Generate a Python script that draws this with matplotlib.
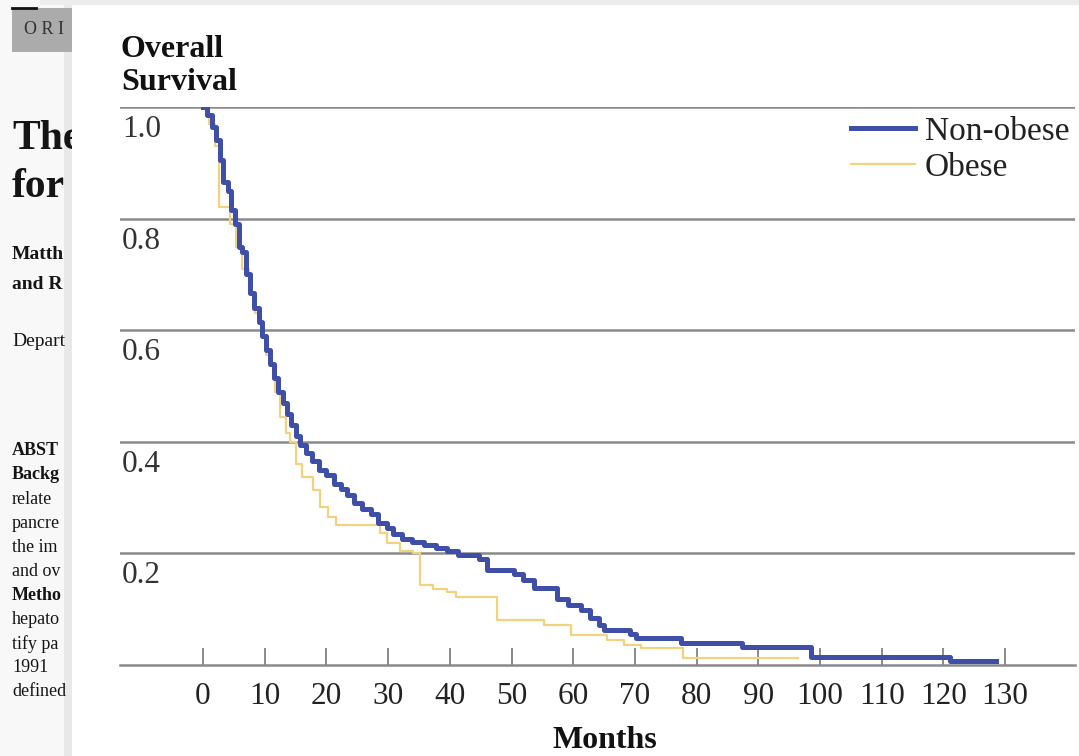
import matplotlib.pyplot as plt
from matplotlib.patches import Rectangle
from matplotlib.lines import Line2D

plt.rcParams['font.family'] = ['Liberation Serif', 'DejaVu Serif']

# Kaplan-Meier step points (months, survival)
nonobese_t = [0.0, 0.7, 1.4, 2.1, 2.8, 3.3, 4.1, 4.6, 5.2, 5.8, 6.4, 7.0, 7.6, 8.3,
              9.0, 9.6, 10.2, 10.8, 11.5, 12.2, 12.9, 13.6, 14.3, 15.0, 15.8, 16.7,
              17.7, 18.8, 20.0, 21.2, 22.3, 23.3, 24.4, 25.8, 27.3, 28.4, 29.8, 30.8,
              32.3, 33.8, 35.8, 37.8, 39.6, 41.3, 44.8, 46.1, 50.4, 51.8, 53.6, 57.3,
              59.2, 61.2, 62.7, 64.2, 65.0, 69.2, 70.2, 77.5, 87.3, 98.6, 121.0, 128.5]
nonobese_s = [1.000, 0.985, 0.965, 0.940, 0.905, 0.865, 0.850, 0.815, 0.790, 0.750,
              0.740, 0.700, 0.667, 0.640, 0.615, 0.590, 0.565, 0.540, 0.515, 0.490,
              0.470, 0.450, 0.430, 0.410, 0.395, 0.380, 0.365, 0.350, 0.340, 0.325,
              0.315, 0.305, 0.290, 0.280, 0.270, 0.255, 0.245, 0.235, 0.225, 0.220,
              0.215, 0.210, 0.205, 0.198, 0.190, 0.170, 0.163, 0.152, 0.138, 0.118,
              0.108, 0.098, 0.085, 0.072, 0.063, 0.055, 0.048, 0.040, 0.032, 0.014,
              0.007, 0.007]

obese_t = [0.0, 1.0, 1.9, 2.6, 4.4, 5.4, 6.4, 7.4, 8.4, 9.4, 10.2, 10.9, 11.7, 12.5,
           13.5, 14.1, 15.0, 16.1, 17.8, 19.0, 20.3, 21.6, 28.7, 29.8, 32.0, 34.1,
           35.2, 37.2, 39.6, 41.0, 47.6, 55.2, 59.7, 65.5, 68.2, 71.0, 77.8, 96.5]
obese_s = [1.000, 0.970, 0.930, 0.820, 0.790, 0.750, 0.710, 0.665, 0.630, 0.590,
           0.555, 0.535, 0.490, 0.445, 0.415, 0.400, 0.360, 0.337, 0.314, 0.283,
           0.265, 0.251, 0.237, 0.219, 0.205, 0.200, 0.143, 0.137, 0.131, 0.122,
           0.081, 0.072, 0.054, 0.045, 0.036, 0.030, 0.0125, 0.0125]

x_ticks = [0, 10, 20, 30, 40, 50, 60, 70, 80, 90, 100, 110, 120, 130]
y_ticks = [0.2, 0.4, 0.6, 0.8, 1.0]
y_labels = ['0.2', '0.4', '0.6', '0.8', '1.0']

# bits of the article page showing behind the chart (left edge)
page_lines = [
    ('The', 120, 30, 'bold'), ('for', 168, 30, 'bold'),
    ('Matth', 246, 14, 'bold'), ('and R', 276, 14, 'bold'),
    ('Depart', 333, 14, 'normal'),
    ('ABST', 442, 13, 'bold'), ('Backg', 466, 13, 'bold'),
    ('relate', 491, 13, 'normal'), ('pancre', 515, 13, 'normal'),
    ('the im', 539, 13, 'normal'), ('and ov', 563, 13, 'normal'),
    ('Metho', 587, 13, 'bold'), ('hepato', 611, 13, 'normal'),
    ('tify pa', 635, 13, 'normal'), ('1991', 659, 13, 'normal'),
    ('defined', 683, 13, 'normal'),
]

W, H = 1079, 756
fig = plt.figure(figsize=(W / 100, H / 100), dpi=100)
fig.patch.set_facecolor('#f8f8f8')

def fx(px):
    return px / W

def fy(py):
    return 1 - py / H

# page background
fig.add_artist(Rectangle((fx(40), fy(5)), 1, 5 / H, transform=fig.transFigure,
                         facecolor='#ececec', edgecolor='none', zorder=-3))
fig.add_artist(Rectangle((fx(64), 0), fx(8), fy(5), transform=fig.transFigure,
                         facecolor='#e8e8e8', edgecolor='none', zorder=-3.5))
fig.add_artist(Rectangle((fx(12), fy(52)), fx(60), 44 / H, transform=fig.transFigure,
                         facecolor='#ababab', edgecolor='none', zorder=-3))
fig.add_artist(Line2D([fx(12), fx(36)], [fy(8), fy(8)], transform=fig.transFigure,
                      color='#111111', lw=2, zorder=-2))
fig.text(fx(24), fy(30), 'O R I', fontsize=13, color='#333333', va='center',
         ha='left', zorder=-2)
for txt, top, size, weight in page_lines:
    fig.text(fx(12), fy(top), txt, fontsize=size, fontweight=weight, color='#151515',
             va='top', ha='left', zorder=-2)
# white panel holding the chart
fig.add_artist(Rectangle((fx(72), 0), 1, fy(5), transform=fig.transFigure,
                         facecolor='white', edgecolor='none', zorder=-1))

ax = fig.add_axes([fx(120), 1 - 665 / H, fx(1075) - fx(120), (665 - 107) / H])
ax.set_facecolor('none')

ax.step(obese_t, obese_s, where='post', color='#f2d27e', lw=1.6, label='Obese', zorder=3)
ax.step(nonobese_t, nonobese_s, where='post', color='#3f4ea6', lw=3.6,
        label='Non-obese', zorder=4)

ax.set_xlim((120 - 203) / 6.17, (1075 - 203) / 6.17)
ax.set_ylim(0, 1.0)

for s in ['top', 'left', 'right']:
    ax.spines[s].set_visible(False)
ax.spines['bottom'].set_color('#8a8a8a')
ax.spines['bottom'].set_linewidth(1.8)

ax.set_xticks(x_ticks)
ax.tick_params(axis='x', direction='in', length=12, width=1.4, color='#8a8a8a',
               labelsize=22.5, labelcolor='#222222', pad=12)
ax.set_yticks(y_ticks)
ax.set_yticklabels([])
ax.tick_params(axis='y', length=0)
ax.grid(axis='y', color='#8a8a8a', lw=1.8)
ax.set_axisbelow(True)

for v, lab in zip(y_ticks, y_labels):
    ax.annotate(lab, xy=(0, v), xycoords=('axes fraction', 'data'), xytext=(2, -8),
                textcoords='offset pixels', va='top', ha='left', fontsize=22.5,
                color='#333333')

ax.set_xlabel('Months', fontsize=23, fontweight='bold', color='#111111')
ax.xaxis.set_label_coords((605 - 120) / 955, (665 - 740) / 558)
ax.xaxis.label.set_va('center')

fig.text(fx(121), fy(57), 'Overall', fontsize=23, fontweight='bold', color='#111111',
         va='baseline', ha='left')
fig.text(fx(121), fy(90), 'Survival', fontsize=23, fontweight='bold', color='#111111',
         va='baseline', ha='left')

handles, labels = ax.get_legend_handles_labels()
ax.legend(handles[::-1], labels[::-1], loc='upper right', bbox_to_anchor=(fx(1069), fy(116)),
          bbox_transform=fig.transFigure, frameon=False, fontsize=24, handlelength=1.9,
          handletextpad=0.3, labelspacing=0.17, borderpad=0, borderaxespad=0,
          labelcolor='#222222')

fig.savefig('out.png', dpi=100, facecolor=fig.get_facecolor())
